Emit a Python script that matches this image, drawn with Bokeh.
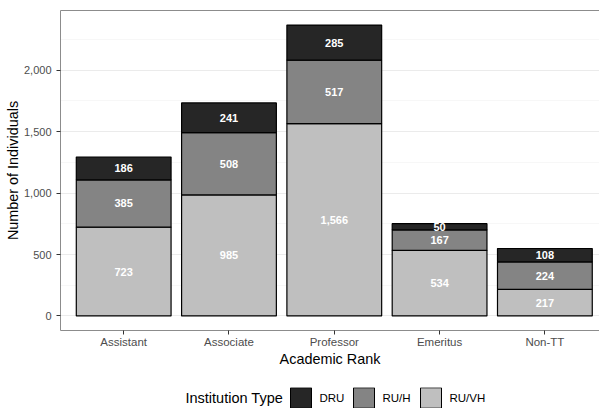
import numpy as np
from bokeh.plotting import figure
from bokeh.layouts import column
from bokeh.models import (ColumnDataSource, Range1d, LinearAxis, FixedTicker,
                          SingleIntervalTicker, NumeralTickFormatter)
from bokeh.core.properties import value
from bokeh.embed import file_html
from bokeh.resources import INLINE

categories = ["Assistant", "Associate", "Professor", "Emeritus", "Non-TT"]
ru_vh = [723, 985, 1566, 534, 217]
ru_h = [385, 508, 517, 167, 224]
dru = [186, 241, 285, 50, 108]
series_names = ["DRU", "RU/H", "RU/VH"]
legend_title = "Institution Type"
colors = {"DRU": "#262626", "RU/H": "#848484", "RU/VH": "#bfbfbf"}

FONT = "Liberation Sans"
PX_X = 105.3          # pixels per category
LEFT = 60
FRAME_W, FRAME_H = 599 - LEFT, 320

xs = list(range(len(categories)))
src = ColumnDataSource(dict(x=xs, RUVH=ru_vh, RUH=ru_h, DRU=dru))

totals = np.array(ru_vh) + np.array(ru_h) + np.array(dru)
ymax = totals.max()
pad = 0.05 * ymax
y0, y1 = -pad, ymax + pad
xr = Range1d(-0.6, -0.6 + FRAME_W / PX_X)

p = figure(frame_width=FRAME_W, frame_height=FRAME_H, output_backend="svg", toolbar_location=None,
           x_range=xr, y_range=Range1d(y0, y1),
           min_border_left=LEFT, min_border_top=10, min_border_right=0, min_border_bottom=57)
p.outline_line_color = None
p.background_fill_color = "white"

rs = p.vbar_stack(["RUVH", "RUH", "DRU"], x="x", width=0.9, source=src,
                  color=[colors["RU/VH"], colors["RU/H"], colors["DRU"]],
                  line_color="black", line_width=1.2)

b = np.array(ru_vh, dtype=float)
h = np.array(ru_h, dtype=float)
d = np.array(dru, dtype=float)
lab_x = xs * 3
lab_y = list(b / 2) + list(b + h / 2) + list(b + h + d / 2)
lab_t = [f"{v:,}" for v in list(ru_vh) + list(ru_h) + list(dru)]
p.text(x=lab_x, y=lab_y, text=lab_t, text_color="white", text_font=value(FONT),
       text_font_size="11px", text_font_style="bold", text_align="center", text_baseline="middle")

p.xaxis.ticker = FixedTicker(ticks=xs)
p.xaxis.major_label_overrides = {i: c for i, c in enumerate(categories)}
p.yaxis.ticker = SingleIntervalTicker(interval=500, num_minor_ticks=2)
p.yaxis.formatter = NumeralTickFormatter(format="0,0")
for ax in (p.xaxis[0], p.yaxis[0]):
    ax.axis_line_color = "#8c8c8c"
    ax.axis_line_width = 1
    ax.major_tick_line_color = "#333333"
    ax.major_tick_out = 4
    ax.major_tick_in = 0
    ax.minor_tick_line_color = None
    ax.major_label_text_font = FONT
    ax.major_label_text_color = "#4d4d4d"
    ax.axis_label_text_font = FONT
    ax.axis_label_text_font_size = "14.4px"
    ax.axis_label_text_font_style = "normal"
    ax.axis_label_text_color = "black"
p.xaxis.major_label_text_font_size = "11.5px"
p.yaxis.major_label_text_font_size = "11px"
p.xaxis.axis_label = "Academic Rank"
p.yaxis.axis_label = "Number of Individuals"
p.xaxis.major_label_standoff = 1
p.xaxis.axis_label_standoff = 0
p.yaxis.major_label_standoff = 5
p.yaxis.axis_label_standoff = 0

top = LinearAxis(ticker=FixedTicker(ticks=[]), major_tick_line_color=None,
                 minor_tick_line_color=None, axis_line_color="#8c8c8c",
                 major_label_standoff=0, major_tick_out=0)
p.add_layout(top, "above")

p.xgrid.grid_line_color = None
p.ygrid.grid_line_color = "#ebebeb"
p.ygrid.grid_line_width = 1.1
p.ygrid.minor_grid_line_color = "#f2f2f2"
p.ygrid.minor_grid_line_width = 0.6

# ---- legend strip (separate small figure sharing the x mapping) ----
LEG_H = 21
leg = figure(frame_width=FRAME_W, frame_height=LEG_H, output_backend="svg", toolbar_location=None,
             x_range=xr, y_range=Range1d(0, LEG_H),
             min_border_left=LEFT, min_border_right=0, min_border_top=0, min_border_bottom=0,
             x_axis_type=None, y_axis_type=None)
leg.outline_line_color = None
leg.xgrid.grid_line_color = None
leg.ygrid.grid_line_color = None


def fx(px):
    """pixel offset from the frame's left edge -> x data units"""
    return xr.start + px / PX_X


title_px = 125
sw_px = [230, 293, 360]
sw = 21
leg.text(x=[fx(title_px)], y=[LEG_H / 2], text=[legend_title], text_font=value(FONT),
         text_font_size="14.5px", text_baseline="middle", text_align="left", text_color="black")
leg.quad(left=[fx(v) for v in sw_px], right=[fx(v + sw) for v in sw_px],
         bottom=[0.3] * 3, top=[0.3 + sw - 0.6] * 3,
         fill_color=[colors[n] for n in series_names], line_color="black", line_width=1)
leg.text(x=[fx(v + sw + 8) for v in sw_px], y=[LEG_H / 2] * 3, text=series_names,
         text_font=value(FONT), text_font_size="11.5px", text_baseline="middle",
         text_align="left", text_color="black")

layout = column(p, leg, spacing=0)
open("out.html", "w").write(file_html(layout, INLINE))
